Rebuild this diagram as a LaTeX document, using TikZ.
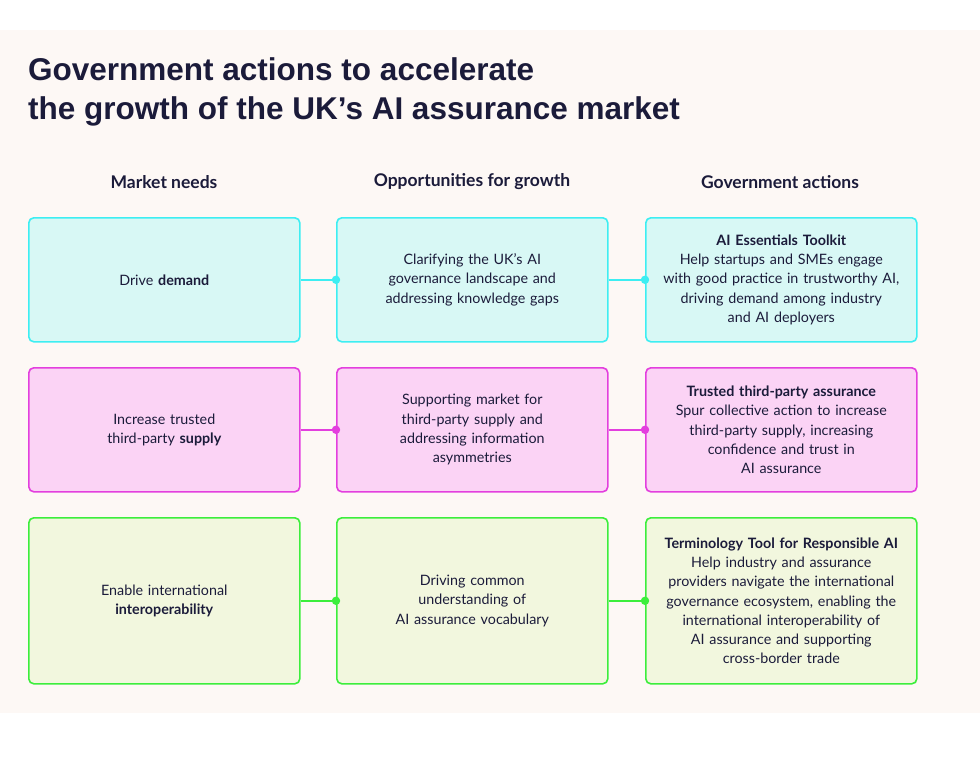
\documentclass[tikz,border=0pt]{standalone}
\usepackage{fontspec}
\setmainfont{Lato}
\newfontfamily\titlefont{Liberation Sans}
\definecolor{ink}{HTML}{1B1B3A}
\definecolor{bg}{HTML}{FDF8F5}
\definecolor{cyb}{HTML}{3DEEF2}\definecolor{cyf}{HTML}{D8F8F5}
\definecolor{mab}{HTML}{E33FDE}\definecolor{maf}{HTML}{FBD3F5}
\definecolor{grb}{HTML}{3CEE3C}\definecolor{grf}{HTML}{F2F7DE}
\tikzset{
 box/.style={draw, line width=1.6pt, rounded corners=5pt, minimum width=271pt, text width=262pt, align=center, anchor=north west, inner sep=0pt, text=ink, font=\fontsize{14.3}{19.3}\selectfont},
 hdr/.style={text=ink, font=\bfseries\fontsize{17.5}{20}\selectfont},
 link/.style={line width=1.6pt},
}
\begin{document}
\begin{tikzpicture}[x=1pt,y=-1pt]
\useasboundingbox (0,0) rectangle (980,758);
\fill[bg] (0,30) rectangle (980,713);
\node[anchor=north west, align=left, text=ink, font=\titlefont\bfseries\fontsize{31.5}{39}\selectfont, inner sep=0pt] (title) at (28,57) {Government actions to accelerate\\the growth of the UK’s AI assurance market};
\node[hdr] (h1) at (164,182) {Market needs};
\node[hdr] (h2) at (472,182) {Opportunities for growth};
\node[hdr] (h3) at (780,182) {Government actions};
% row 1
\node[box, draw=cyb, fill=cyf, minimum height=124pt] (a1) at (28,217) {Drive \textbf{demand}};
\node[box, draw=cyb, fill=cyf, minimum height=124pt] (b1) at (336,217) {Clarifying the UK’s AI\\governance landscape and\\addressing knowledge gaps};
\node[box, draw=cyb, fill=cyf, minimum height=124pt] (c1) at (645,217) {\textbf{AI Essentials Toolkit}\\Help startups and SMEs engage\\with good practice in trustworthy AI,\\driving demand among industry\\and AI deployers};
% row 2
\node[box, draw=mab, fill=maf, minimum height=124pt] (a2) at (28,367) {Increase trusted\\third-party \textbf{supply}};
\node[box, draw=mab, fill=maf, minimum height=124pt] (b2) at (336,367) {Supporting market for\\third-party supply and\\addressing information\\asymmetries};
\node[box, draw=mab, fill=maf, minimum height=124pt] (c2) at (645,367) {\textbf{Trusted third-party assurance}\\Spur collective action to increase\\third-party supply, increasing\\confidence and trust in\\AI assurance};
% row 3
\node[box, draw=grb, fill=grf, minimum height=166pt] (a3) at (28,517) {Enable international\\\textbf{interoperability}};
\node[box, draw=grb, fill=grf, minimum height=166pt] (b3) at (336,517) {Driving common\\understanding of\\AI assurance vocabulary};
\node[box, draw=grb, fill=grf, minimum height=166pt] (c3) at (645,517) {\textbf{Terminology Tool for Responsible AI}\\Help industry and assurance\\providers navigate the international\\governance ecosystem, enabling the\\international interoperability of\\AI assurance and supporting\\cross-border trade};
\foreach \r/\col in {1/cyb,2/mab,3/grb}{
 \draw[link,\col] (a\r.east) -- (b\r.west); \fill[\col] (b\r.west) circle (4.2pt);
 \draw[link,\col] (b\r.east) -- (c\r.west); \fill[\col] (c\r.west) circle (4.2pt);
}
\end{tikzpicture}
\end{document}
